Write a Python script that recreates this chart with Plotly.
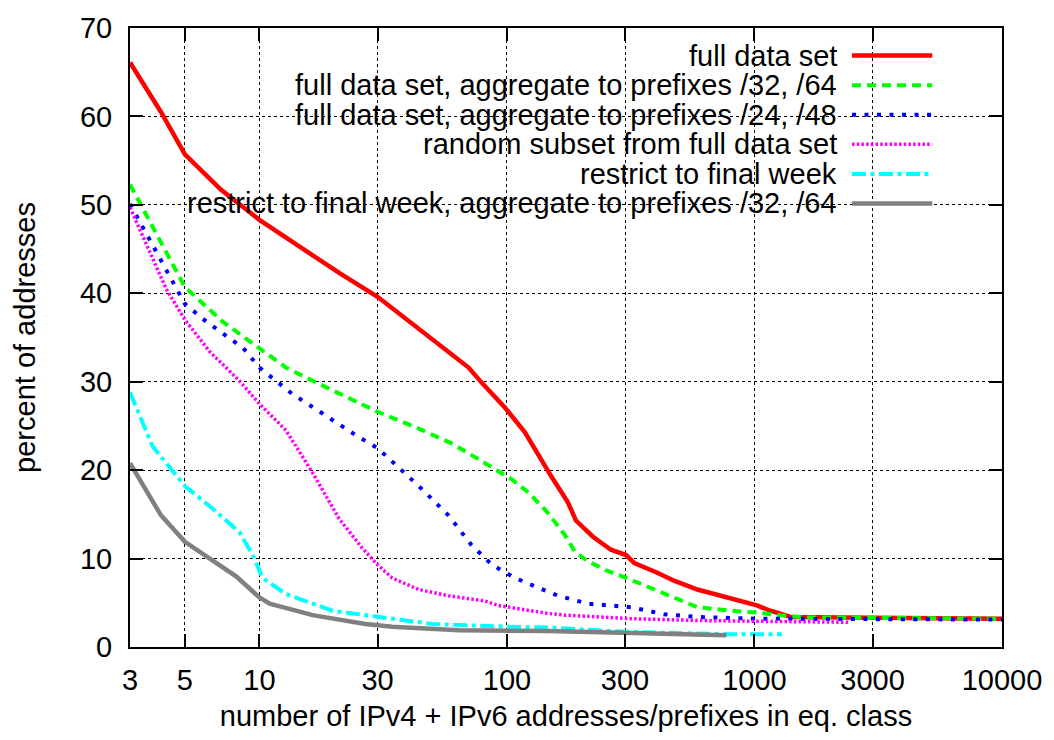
import plotly.graph_objects as go

# Share of addresses in equivalence classes of at least the given size
full_x = [3, 4, 5, 7, 10, 14.5, 21, 30, 40, 55, 70, 79, 98, 118, 134, 151, 176, 190, 222, 263, 303,
          327, 405, 473, 588, 686, 800, 1023, 1160, 1400, 3000, 10000]
full_y = [66.1, 60.5, 55.7, 51.7, 48.3, 45.3, 42.3, 39.6, 36.9, 34.0, 31.6, 29.9, 27.1, 24.3, 21.6,
          19.3, 16.4, 14.3, 12.5, 11.0, 10.4, 9.5, 8.4, 7.5, 6.5, 6.0, 5.6, 4.7, 4.1, 3.4, 3.3, 3.2]

agg32_x = [3, 5, 7.1, 10, 12.8, 16.4, 23.7, 30, 44, 60, 72, 89, 104, 122, 146, 171, 188, 212, 255,
           317, 431, 588, 800, 1020, 1270, 1600, 3000, 10000]
agg32_y = [52.3, 40.7, 36.8, 33.8, 31.6, 30.1, 28.0, 26.6, 24.7, 23.0, 21.7, 20.1, 19.0, 17.5,
           15.2, 12.7, 10.8, 9.7, 8.6, 7.6, 6.0, 4.5, 4.1, 3.9, 3.6, 3.35, 3.3, 3.2]

agg24_x = [3, 5, 6.1, 8.6, 10, 13.6, 18, 25, 30, 36.5, 44, 58, 72, 87, 108, 134, 161, 212, 317,
           431, 588, 1000, 3000, 10000]
agg24_y = [50.1, 38.8, 36.8, 33.8, 31.6, 28.6, 26.4, 23.8, 22.5, 20.3, 18.2, 14.9, 11.5, 9.3, 7.8,
           6.7, 5.8, 4.9, 4.5, 3.7, 3.4, 3.2, 3.2, 3.1]

rand_x = [3, 4.2, 5, 5.6, 6.3, 8.3, 10, 12.8, 16.4, 21, 26, 30, 34.4, 44, 58, 81.5, 92, 146, 171,
          317, 588, 1090, 2400]
rand_y = [49.7, 40.5, 37.0, 35.3, 33.4, 30.1, 27.5, 24.5, 19.7, 14.5, 11.2, 9.3, 7.8, 6.5, 5.8,
          5.2, 4.7, 3.8, 3.6, 3.2, 3.0, 2.9, 2.8]

week_x = [3, 3.7, 5, 6.5, 8.3, 9.4, 10.3, 12.8, 19.7, 30, 50, 100, 146, 317, 774, 1290]
week_y = [28.8, 22.7, 18.2, 15.6, 13.0, 10.4, 7.8, 6.0, 4.1, 3.4, 2.6, 2.3, 2.2, 1.7, 1.45, 1.45]

week32_x = [3, 4, 5, 6.3, 8.05, 10, 11, 16.4, 26.8, 34.4, 64, 146, 770]
week32_y = [20.8, 14.9, 11.9, 10.0, 8.0, 5.6, 4.9, 3.6, 2.6, 2.3, 1.9, 1.8, 1.33]

names = [
    "full data set",
    "full data set, aggregate to prefixes /32, /64",
    "full data set, aggregate to prefixes /24, /48",
    "random subset from full data set",
    "restrict to final week",
    "restrict to final week, aggregate to prefixes /32, /64",
]
xs = [full_x, agg32_x, agg24_x, rand_x, week_x, week32_x]
ys = [full_y, agg32_y, agg24_y, rand_y, week_y, week32_y]

colors = ["#ff0000", "#00ff00", "#0000ff", "#ff00ff", "#00ffff", "#808080"]
dashes = ["solid", "9px,6px", "4px,8.5px", "2.5px,2.2px", "14px,4.5px,4px,4.5px", "solid"]
widths = [4.5, 4, 4, 3.5, 4, 4.5]

x_ticks = [3, 5, 10, 30, 100, 300, 1000, 3000, 10000]

FONT = "Liberation Sans, Arial, sans-serif"
FS = 29

fig = go.Figure()
for x, y, n, c, d, w in zip(xs, ys, names, colors, dashes, widths):
    fig.add_trace(go.Scatter(x=x, y=y, name=n, mode="lines",
                             line=dict(color=c, dash=d, width=w), showlegend=False))

# key: right-aligned text followed by a line sample, one row per series
row_top, row_step = 0.9555, 0.0478
for i, (n, c, d, w) in enumerate(zip(names, colors, dashes, widths)):
    yy = row_top - i * row_step
    fig.add_annotation(x=0.813, y=yy, xref="paper", yref="paper", text=n, showarrow=False,
                       xanchor="right", yanchor="middle",
                       font=dict(family=FONT, size=FS, color="black"))
    fig.add_shape(type="line", xref="paper", yref="paper", x0=0.828, x1=0.920, y0=yy, y1=yy,
                  line=dict(color=c, dash=d, width=w))

axis_common = dict(
    showline=True, linecolor="black", linewidth=2, mirror="allticks",
    ticks="inside", ticklen=13, tickwidth=1.5, tickcolor="black",
    showgrid=True, gridcolor="black", gridwidth=1, griddash="dot",
    zeroline=False, tickfont=dict(family=FONT, size=FS, color="black"),
)

fig.update_layout(
    width=1054, height=740,
    margin=dict(l=130, r=48, t=18, b=93),
    plot_bgcolor="white", paper_bgcolor="white",
    font=dict(family=FONT, size=FS, color="black"),
    xaxis=dict(type="log", range=[0.47712, 4], tickvals=x_ticks,
               ticktext=[str(v) for v in x_ticks], ticklabelstandoff=6,
               title=dict(text="number of IPv4 + IPv6 addresses/prefixes in eq. class",
                          font=dict(family=FONT, size=FS), standoff=11),
               **axis_common),
    yaxis=dict(range=[0, 70], dtick=10, ticklabelstandoff=10,
               title=dict(text="percent of addresses", font=dict(family=FONT, size=FS), standoff=36),
               **axis_common),
)

fig.write_html("out.html")
